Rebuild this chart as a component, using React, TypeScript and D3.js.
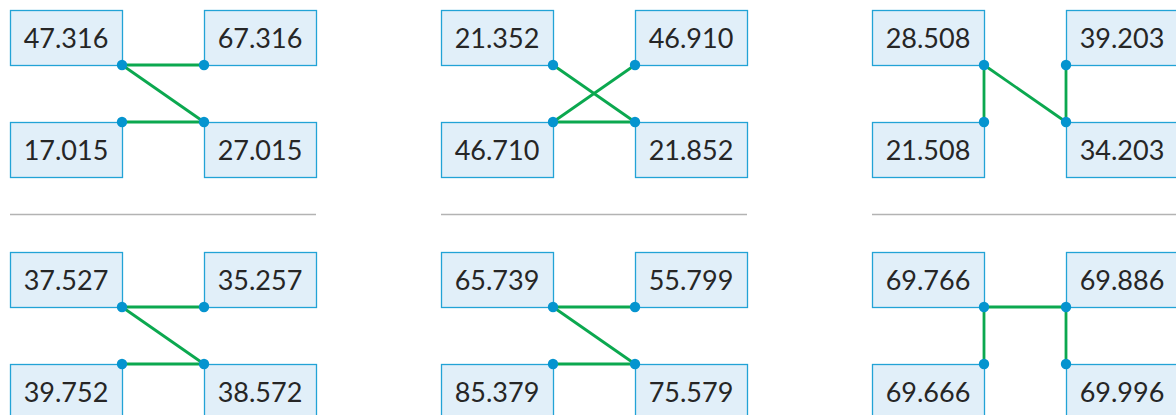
import { useMemo } from 'react';
import * as d3 from 'd3';

// Values per panel, in order: top-left, top-right, bottom-left, bottom-right
const panelValues: string[][] = [
  ['47.316', '67.316', '17.015', '27.015'],
  ['21.352', '46.910', '46.710', '21.852'],
  ['28.508', '39.203', '21.508', '34.203'],
  ['37.527', '35.257', '39.752', '38.572'],
  ['65.739', '55.799', '85.379', '75.579'],
  ['69.766', '69.886', '69.666', '69.996'],
];

// Connector points: A = TL box corner, B = TR box corner, C = BL box corner, D = BR box corner
const panelLinks: [string, string][][] = [
  [['A', 'B'], ['A', 'D'], ['C', 'D']],
  [['A', 'D'], ['B', 'C'], ['C', 'D']],
  [['A', 'C'], ['A', 'D'], ['B', 'D']],
  [['A', 'B'], ['A', 'D'], ['C', 'D']],
  [['A', 'B'], ['A', 'D'], ['C', 'D']],
  [['A', 'C'], ['A', 'B'], ['B', 'D']],
];

const WIDTH = 1176;
const HEIGHT = 415;
const BOX_W = 112;
const BOX_H = 55;
const GAP_X = 82;
const GAP_Y = 57;

const BOX_FILL = '#e1eff9';
const BOX_STROKE = '#22a3d6';
const DOT = '#0594cf';
const LINK = '#0ba84f';

export default function App() {
  const colX = useMemo(() => d3.scaleLinear().domain([0, 1]).range([10, 441]), []);
  const rowY = useMemo(() => d3.scaleLinear().domain([0, 1]).range([10, 252]), []);

  return (
    <svg
      width={WIDTH}
      height={HEIGHT}
      style={{ position: 'absolute', left: 0, top: 0, background: '#fff' }}
    >
      {panelValues.map((values, p) => {
        const col = p % 3;
        const row = Math.floor(p / 3);
        const x0 = colX(col);
        const y0 = rowY(row);
        const boxes = [
          { x: x0, y: y0 },
          { x: x0 + BOX_W + GAP_X, y: y0 },
          { x: x0, y: y0 + BOX_H + GAP_Y },
          { x: x0 + BOX_W + GAP_X, y: y0 + BOX_H + GAP_Y },
        ];
        const pts: Record<string, [number, number]> = {
          A: [x0 + BOX_W, y0 + BOX_H],
          B: [x0 + BOX_W + GAP_X, y0 + BOX_H],
          C: [x0 + BOX_W, y0 + BOX_H + GAP_Y],
          D: [x0 + BOX_W + GAP_X, y0 + BOX_H + GAP_Y],
        };
        const line = d3.line<[number, number]>();
        return (
          <g key={p}>
            {boxes.map((b, i) => (
              <g key={i}>
                <rect
                  x={b.x + 0.5}
                  y={b.y + 0.5}
                  width={BOX_W}
                  height={BOX_H}
                  fill={BOX_FILL}
                  stroke={BOX_STROKE}
                  strokeWidth={1.3}
                />
                <text
                  x={b.x + BOX_W / 2}
                  y={b.y + BOX_H / 2 + 10}
                  textAnchor="middle"
                  fontFamily="Lato, 'Open Sans', sans-serif"
                  fontSize={27}
                  fill="#262626"
                >
                  {values[i]}
                </text>
              </g>
            ))}
            {row === 0 && (
              <line
                x1={x0}
                x2={x0 + 2 * BOX_W + GAP_X}
                y1={214.5}
                y2={214.5}
                stroke="#b3b3b3"
                strokeWidth={1.6}
              />
            )}
            {panelLinks[p].map(([s, t], i) => (
              <path
                key={i}
                d={line([pts[s], pts[t]]) ?? ''}
                stroke={LINK}
                strokeWidth={2.8}
                fill="none"
              />
            ))}
            {Object.entries(pts).map(([k, [cx, cy]]) => (
              <circle key={k} cx={cx} cy={cy} r={5.2} fill={DOT} />
            ))}
          </g>
        );
      })}
    </svg>
  );
}
